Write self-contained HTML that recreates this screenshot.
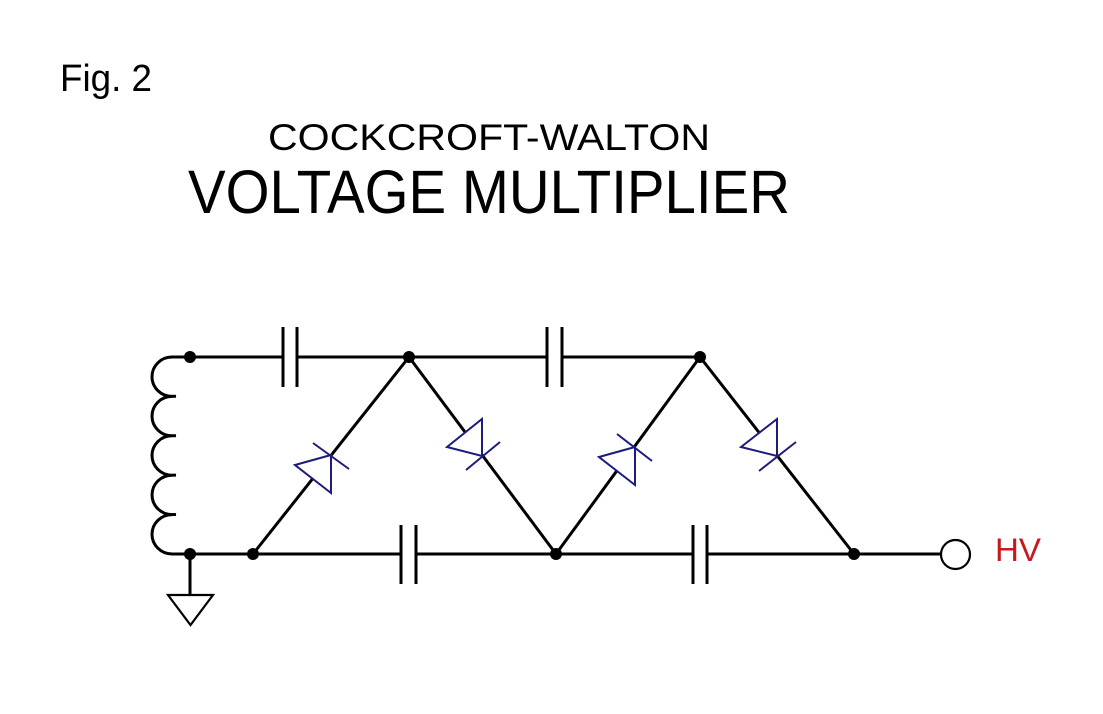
<!DOCTYPE html>
<html>
<head>
<meta charset="utf-8">
<style>
  html,body{margin:0;padding:0;background:#fff;}
  svg{display:block;}
  text{font-family:"Liberation Sans", Arial, sans-serif;}
</style>
</head>
<body>
<svg width="1103" height="714" viewBox="0 0 1103 714" xmlns="http://www.w3.org/2000/svg">
  <rect width="1103" height="714" fill="#fff"/>

  <!-- Titles -->
  <text x="60" y="91" font-size="38" fill="#000" textLength="92" lengthAdjust="spacingAndGlyphs">Fig. 2</text>
  <text x="268" y="150" font-size="37" fill="#000" textLength="442" lengthAdjust="spacingAndGlyphs">COCKCROFT-WALTON</text>
  <text x="188" y="213" font-size="61" fill="#000" textLength="602" lengthAdjust="spacingAndGlyphs">VOLTAGE MULTIPLIER</text>

  <g stroke="#000" stroke-width="3" fill="none" stroke-linecap="butt">
    <!-- top wire -->
    <line x1="190" y1="357" x2="283" y2="357"/>
    <line x1="297" y1="357" x2="547" y2="357"/>
    <line x1="562" y1="357" x2="700" y2="357"/>
    <!-- bottom wire -->
    <line x1="190" y1="554" x2="401" y2="554"/>
    <line x1="416" y1="554" x2="693" y2="554"/>
    <line x1="707" y1="554" x2="941" y2="554"/>
    <!-- capacitors -->
    <line x1="283" y1="327" x2="283" y2="387"/>
    <line x1="297" y1="327" x2="297" y2="387"/>
    <line x1="547" y1="327" x2="547" y2="387"/>
    <line x1="562" y1="327" x2="562" y2="387"/>
    <line x1="401" y1="525" x2="401" y2="584"/>
    <line x1="416" y1="525" x2="416" y2="584"/>
    <line x1="693" y1="525" x2="693" y2="584"/>
    <line x1="707" y1="525" x2="707" y2="584"/>
    <!-- diagonals -->
    <line x1="253" y1="554" x2="409" y2="357"/>
    <line x1="409" y1="357" x2="556" y2="554"/>
    <line x1="556" y1="554" x2="700" y2="357"/>
    <line x1="700" y1="357" x2="854" y2="554"/>
    <!-- inductor -->
    <path d="M190 357 L172 357
             A20 19.7 0 0 0 172 396.4
             M176 396.4 A20 19.7 0 0 0 172 396.4
             A20 19.7 0 0 0 172 435.8
             M176 435.8 A20 19.7 0 0 0 172 435.8
             A20 19.7 0 0 0 172 475.2
             M176 475.2 A20 19.7 0 0 0 172 475.2
             A20 19.7 0 0 0 172 514.6
             M176 514.6 A20 19.7 0 0 0 172 514.6
             A20 19.7 0 0 0 172 554 L190 554"/>
    <!-- ground -->
    <line x1="190" y1="554" x2="190" y2="595"/>
    <polygon points="168,595 213,595 190.5,625" stroke-width="2.2"/>
  </g>

  <!-- diodes -->
  <g stroke="#1c1c7c" stroke-width="2" fill="#fff" stroke-linejoin="miter">
    <polygon points="295,465 331,455 331,493"/>
    <line x1="313" y1="443" x2="349" y2="469"/>
    <polygon points="447,447 482,419 482,456"/>
    <line x1="466" y1="470" x2="500" y2="442"/>
    <polygon points="599,457 635,447 635,485"/>
    <line x1="617" y1="434" x2="652" y2="461"/>
    <polygon points="741,447 777,419 777,456"/>
    <line x1="759" y1="471" x2="796" y2="442"/>
  </g>

  <!-- nodes -->
  <g fill="#000">
    <circle cx="190" cy="357" r="6"/>
    <circle cx="409" cy="357" r="6"/>
    <circle cx="700" cy="357" r="6"/>
    <circle cx="190" cy="554" r="6"/>
    <circle cx="253" cy="554" r="6"/>
    <circle cx="556" cy="554" r="6"/>
    <circle cx="854" cy="554" r="6"/>
  </g>

  <!-- output terminal -->
  <circle cx="955.5" cy="554.5" r="14.5" fill="#fff" stroke="#000" stroke-width="2.2"/>
  <text x="995" y="561" font-size="32" fill="#c41a1e" textLength="46" lengthAdjust="spacingAndGlyphs">HV</text>
</svg>
</body>
</html>
